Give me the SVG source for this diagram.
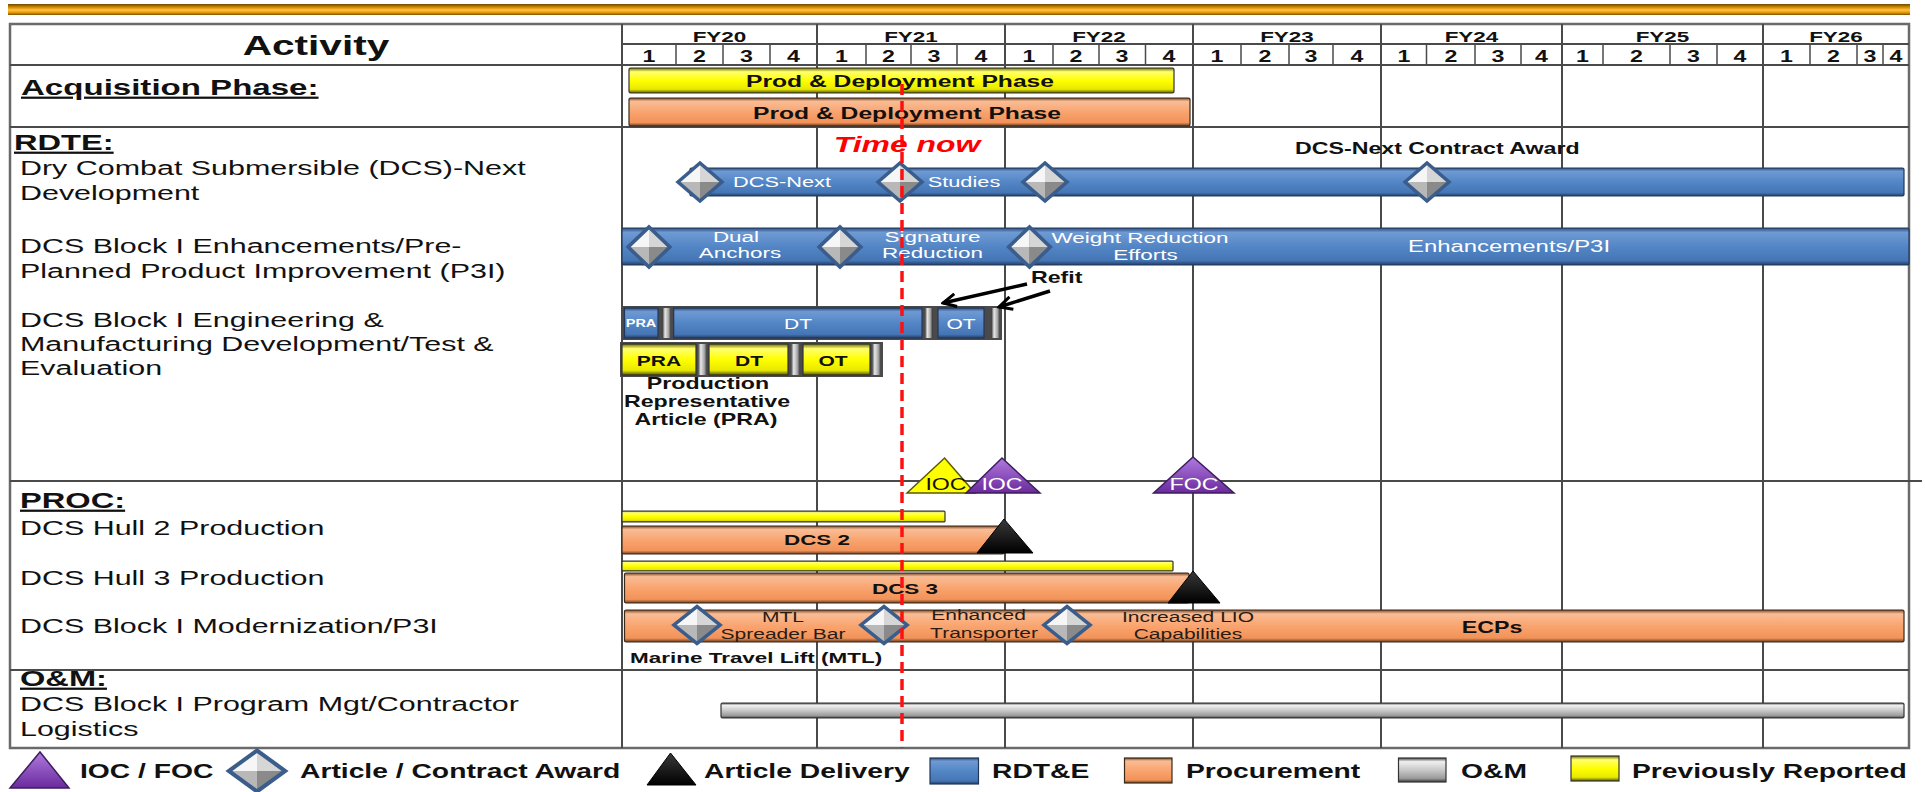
<svg xmlns="http://www.w3.org/2000/svg" xmlns:xlink="http://www.w3.org/1999/xlink" width="1925" height="792" viewBox="0 0 1925 792">
<defs>
<style>
.t{font-family:"Liberation Sans",Arial,Helvetica,sans-serif;fill:#111}
.b{font-weight:700}
.w{fill:#fff}
.u{text-decoration:underline}
.br{fill:#2a1c12}
.grid{stroke:#4a4a4a;stroke-width:2;fill:none}
.q{stroke:#4a4a4a;stroke-width:1.5}
.bb{fill:url(#gB);stroke:#22385a;stroke-width:1.2}
.bo{fill:url(#gO);stroke:#3a2a1a;stroke-width:1.2}
.by{fill:url(#gY);stroke:#333;stroke-width:1.2}
.bg{fill:url(#gG);stroke:#333;stroke-width:1.2}
.tp{fill:url(#gP);stroke:#3d1d5e;stroke-width:1.5}
.tk{fill:url(#gK);stroke:#000;stroke-width:1}
.ty{fill:#ffff00;stroke:#5a5a00;stroke-width:1.5}
.arr{stroke:#000;stroke-width:3.5;fill:none;marker-end:url(#ah)}
</style>
<linearGradient id="gGold" x1="0" y1="0" x2="0" y2="1">
<stop offset="0" stop-color="#6e4800"/><stop offset="0.3" stop-color="#d48c00"/><stop offset="0.55" stop-color="#ffc440"/><stop offset="0.8" stop-color="#e09400"/><stop offset="1" stop-color="#7a5000"/>
</linearGradient>
<linearGradient id="gB" x1="0" y1="0" x2="0" y2="1">
<stop offset="0" stop-color="#2c4e80"/><stop offset="0.12" stop-color="#6f9ad3"/><stop offset="0.5" stop-color="#5386c6"/><stop offset="0.88" stop-color="#4575b5"/><stop offset="1" stop-color="#243f66"/>
</linearGradient>
<linearGradient id="gO" x1="0" y1="0" x2="0" y2="1">
<stop offset="0" stop-color="#7a4a28"/><stop offset="0.12" stop-color="#f9bd96"/><stop offset="0.5" stop-color="#f9a46f"/><stop offset="0.88" stop-color="#f29258"/><stop offset="1" stop-color="#6a3e20"/>
</linearGradient>
<linearGradient id="gY" x1="0" y1="0" x2="0" y2="1">
<stop offset="0" stop-color="#6e6e00"/><stop offset="0.15" stop-color="#ffff70"/><stop offset="0.5" stop-color="#ffff00"/><stop offset="0.85" stop-color="#e8e800"/><stop offset="1" stop-color="#5a5a00"/>
</linearGradient>
<linearGradient id="gG" x1="0" y1="0" x2="0" y2="1">
<stop offset="0" stop-color="#444"/><stop offset="0.15" stop-color="#f0f0f0"/><stop offset="0.5" stop-color="#c8c8c8"/><stop offset="0.85" stop-color="#9a9a9a"/><stop offset="1" stop-color="#3a3a3a"/>
</linearGradient>
<linearGradient id="gGv" x1="0" y1="0" x2="1" y2="0">
<stop offset="0" stop-color="#444"/><stop offset="0.3" stop-color="#e8e8e8"/><stop offset="0.7" stop-color="#a8a8a8"/><stop offset="1" stop-color="#3a3a3a"/>
</linearGradient>
<linearGradient id="gP" x1="0" y1="0" x2="0" y2="1">
<stop offset="0" stop-color="#b07ae0"/><stop offset="1" stop-color="#6a2a9c"/>
</linearGradient>
<linearGradient id="gK" x1="0" y1="0" x2="0" y2="1">
<stop offset="0" stop-color="#3a3a3a"/><stop offset="1" stop-color="#000"/>
</linearGradient>
<g id="dm">
<polygon points="-22,0 0,-19 0,0" fill="#f6f6f6"/>
<polygon points="0,-19 22,0 0,0" fill="#d6d6d6"/>
<polygon points="-22,0 0,19 0,0" fill="#b8b8b8"/>
<polygon points="0,19 22,0 0,0" fill="#8a8a8a"/>
<polygon points="-22,0 0,-19 22,0 0,19" fill="none" stroke="#3a5d8c" stroke-width="3.5"/>
</g>
<marker id="ah" viewBox="0 0 16 16" markerWidth="16" markerHeight="16" refX="14" refY="8" orient="auto" markerUnits="userSpaceOnUse">
<path d="M1,1.5 L14,8 L1,14.5" fill="none" stroke="#000" stroke-width="3"/>
</marker>
</defs>

<rect x="0" y="0" width="1925" height="792" fill="#fff"/>
<rect id="topbar" x="8" y="4" width="1902" height="11" fill="url(#gGold)"/>

<g id="grid">
<rect x="10" y="24" width="1899" height="724" fill="#fff" stroke="#6a6a6a" stroke-width="2.5"/>
<line class="grid" x1="622" y1="24" x2="622" y2="748"/>
<line class="grid" x1="10" y1="65" x2="1909" y2="65"/>
<line class="grid" x1="622" y1="44" x2="1909" y2="44"/>
<line class="grid" x1="10" y1="127" x2="1909" y2="127"/>
<line class="grid" x1="10" y1="481" x2="1922" y2="481"/>
<line class="grid" x1="10" y1="670" x2="1909" y2="670"/>
<g class="grid">
<line x1="817" y1="24" x2="817" y2="748"/><line x1="1005" y1="24" x2="1005" y2="748"/>
<line x1="1193" y1="24" x2="1193" y2="748"/><line x1="1381" y1="24" x2="1381" y2="748"/>
<line x1="1562" y1="24" x2="1562" y2="748"/><line x1="1763" y1="24" x2="1763" y2="748"/>
</g>
<g class="q">
<line x1="676" y1="44" x2="676" y2="65"/><line x1="723" y1="44" x2="723" y2="65"/><line x1="770" y1="44" x2="770" y2="65"/>
<line x1="866" y1="44" x2="866" y2="65"/><line x1="911" y1="44" x2="911" y2="65"/><line x1="957" y1="44" x2="957" y2="65"/>
<line x1="1053" y1="44" x2="1053" y2="65"/><line x1="1099" y1="44" x2="1099" y2="65"/><line x1="1145.5" y1="44" x2="1145.5" y2="65"/>
<line x1="1241" y1="44" x2="1241" y2="65"/><line x1="1289" y1="44" x2="1289" y2="65"/><line x1="1333" y1="44" x2="1333" y2="65"/>
<line x1="1426.5" y1="44" x2="1426.5" y2="65"/><line x1="1475" y1="44" x2="1475" y2="65"/><line x1="1521" y1="44" x2="1521" y2="65"/>
<line x1="1603" y1="44" x2="1603" y2="65"/><line x1="1670" y1="44" x2="1670" y2="65"/><line x1="1717" y1="44" x2="1717" y2="65"/>
<line x1="1810" y1="44" x2="1810" y2="65"/><line x1="1857" y1="44" x2="1857" y2="65"/><line x1="1883" y1="44" x2="1883" y2="65"/>
</g>
</g>

<g id="header">
<text class="t b" font-size="28" text-anchor="middle" transform="translate(316,55) scale(1.45,1)">Activity</text>
<g font-size="15.5" text-anchor="middle">
<text class="t b" transform="translate(719.5,41.5) scale(1.45,1)">FY20</text>
<text class="t b" transform="translate(911,41.5) scale(1.45,1)">FY21</text>
<text class="t b" transform="translate(1099,41.5) scale(1.45,1)">FY22</text>
<text class="t b" transform="translate(1287,41.5) scale(1.45,1)">FY23</text>
<text class="t b" transform="translate(1471.5,41.5) scale(1.45,1)">FY24</text>
<text class="t b" transform="translate(1662.5,41.5) scale(1.45,1)">FY25</text>
<text class="t b" transform="translate(1836,41.5) scale(1.45,1)">FY26</text>
</g>
<g font-size="16" text-anchor="middle">
<text class="t b" transform="translate(649,62) scale(1.45,1)">1</text>
<text class="t b" transform="translate(699.5,62) scale(1.45,1)">2</text>
<text class="t b" transform="translate(746.5,62) scale(1.45,1)">3</text>
<text class="t b" transform="translate(793.5,62) scale(1.45,1)">4</text>
<text class="t b" transform="translate(841.5,62) scale(1.45,1)">1</text>
<text class="t b" transform="translate(888.5,62) scale(1.45,1)">2</text>
<text class="t b" transform="translate(934,62) scale(1.45,1)">3</text>
<text class="t b" transform="translate(981,62) scale(1.45,1)">4</text>
<text class="t b" transform="translate(1029,62) scale(1.45,1)">1</text>
<text class="t b" transform="translate(1076,62) scale(1.45,1)">2</text>
<text class="t b" transform="translate(1122,62) scale(1.45,1)">3</text>
<text class="t b" transform="translate(1169,62) scale(1.45,1)">4</text>
<text class="t b" transform="translate(1217,62) scale(1.45,1)">1</text>
<text class="t b" transform="translate(1265,62) scale(1.45,1)">2</text>
<text class="t b" transform="translate(1311,62) scale(1.45,1)">3</text>
<text class="t b" transform="translate(1357,62) scale(1.45,1)">4</text>
<text class="t b" transform="translate(1404,62) scale(1.45,1)">1</text>
<text class="t b" transform="translate(1451,62) scale(1.45,1)">2</text>
<text class="t b" transform="translate(1498,62) scale(1.45,1)">3</text>
<text class="t b" transform="translate(1541.5,62) scale(1.45,1)">4</text>
<text class="t b" transform="translate(1582.5,62) scale(1.45,1)">1</text>
<text class="t b" transform="translate(1636.5,62) scale(1.45,1)">2</text>
<text class="t b" transform="translate(1693.5,62) scale(1.45,1)">3</text>
<text class="t b" transform="translate(1740,62) scale(1.45,1)">4</text>
<text class="t b" transform="translate(1786.5,62) scale(1.45,1)">1</text>
<text class="t b" transform="translate(1833.5,62) scale(1.45,1)">2</text>
<text class="t b" transform="translate(1870,62) scale(1.45,1)">3</text>
<text class="t b" transform="translate(1896,62) scale(1.45,1)">4</text>
</g>
</g>

<g id="activities">
<g font-size="22.5">
<text class="t b u" transform="translate(21,95) scale(1.47,1)">Acquisition Phase:</text>
<text class="t b u" transform="translate(14,150) scale(1.45,1)">RDTE:</text>
<text class="t b u" transform="translate(20,508) scale(1.45,1)">PROC:</text>
<text class="t b u" transform="translate(20,686) scale(1.45,1)">O&amp;M:</text>
</g>
<g font-size="21">
<text class="t" transform="translate(20,175) scale(1.45,1)">Dry Combat Submersible (DCS)-Next</text>
<text class="t" transform="translate(20,200) scale(1.45,1)">Development</text>
<text class="t" transform="translate(20,253) scale(1.45,1)">DCS Block I Enhancements/Pre-</text>
<text class="t" transform="translate(20,278) scale(1.45,1)">Planned Product Improvement (P3I)</text>
<text class="t" transform="translate(20,327) scale(1.45,1)">DCS Block I Engineering  &amp;</text>
<text class="t" transform="translate(20,351) scale(1.45,1)">Manufacturing Development/Test &amp;</text>
<text class="t" transform="translate(20,375) scale(1.45,1)">Evaluation</text>
<text class="t" transform="translate(20,535) scale(1.45,1)">DCS Hull 2 Production</text>
<text class="t" transform="translate(20,585) scale(1.45,1)">DCS Hull 3 Production</text>
<text class="t" transform="translate(20,633) scale(1.45,1)">DCS Block I Modernization/P3I</text>
<text class="t" transform="translate(20,711) scale(1.45,1)">DCS Block I Program Mgt/Contractor</text>
<text class="t" transform="translate(20,736) scale(1.45,1)">Logistics</text>
</g>
</g>

<g id="row-acq">
<rect class="by" x="629" y="68" width="545" height="25" rx="1.5"/>
<text class="t b" font-size="17" text-anchor="middle" transform="translate(900,87) scale(1.45,1)">Prod &amp; Deployment Phase</text>
<rect class="bo" x="629" y="98" width="561" height="28" rx="1.5"/>
<text class="t b" font-size="17" text-anchor="middle" transform="translate(907,119) scale(1.45,1)">Prod &amp; Deployment Phase</text>
</g>

<g id="row-dcsnext">
<rect class="bb" x="690" y="168" width="1214" height="28" rx="1.5"/>
<use xlink:href="#dm" href="#dm" transform="translate(700,182)"/>
<use xlink:href="#dm" href="#dm" transform="translate(900,182)"/>
<use xlink:href="#dm" href="#dm" transform="translate(1045,182)"/>
<use xlink:href="#dm" href="#dm" transform="translate(1427,182)"/>
<text class="t w" font-size="15" text-anchor="middle" transform="translate(782,187) scale(1.45,1)">DCS-Next</text>
<text class="t w" font-size="15" text-anchor="middle" transform="translate(964,187) scale(1.45,1)">Studies</text>
<text class="t b" font-size="16" transform="translate(1295,154) scale(1.45,1)">DCS-Next Contract Award</text>
</g>

<g id="row-enh">
<rect class="bb" x="622" y="228" width="1287" height="37" rx="1.5"/>
<use xlink:href="#dm" href="#dm" transform="translate(649,247) scale(0.95,1.05)"/>
<use xlink:href="#dm" href="#dm" transform="translate(840,247) scale(0.95,1.05)"/>
<use xlink:href="#dm" href="#dm" transform="translate(1029.5,247) scale(0.95,1.05)"/>
<g font-size="15.5" text-anchor="middle">
<text class="t w" transform="translate(736,242) scale(1.45,1)">Dual</text>
<text class="t w" transform="translate(740,258) scale(1.45,1)">Anchors</text>
<text class="t w" transform="translate(932.5,242) scale(1.45,1)">Signature</text>
<text class="t w" transform="translate(932.5,258) scale(1.45,1)">Reduction</text>
<text class="t w" transform="translate(1140,243) scale(1.45,1)">Weight Reduction</text>
<text class="t w" transform="translate(1145.5,260) scale(1.45,1)">Efforts</text>
</g>
<text class="t w" font-size="16.5" text-anchor="middle" transform="translate(1509,252) scale(1.45,1)">Enhancements/P3I</text>
</g>

<g id="row-emd">
<rect x="622" y="306" width="380" height="34" fill="#4a4a4a"/>
<rect class="bb" x="624.5" y="308" width="33.5" height="30"/>
<rect x="662.5" y="308" width="8.5" height="30" fill="url(#gGv)"/>
<rect class="bb" x="673.7" y="308" width="248.3" height="30"/>
<rect x="925" y="308" width="7.6" height="30" fill="url(#gGv)"/>
<rect class="bb" x="938" y="308" width="46" height="30"/>
<rect x="991.5" y="308" width="8.5" height="30" fill="url(#gGv)"/>
<text class="t w b" font-size="10" text-anchor="middle" transform="translate(641,327) scale(1.45,1)">PRA</text>
<text class="t w" font-size="14.5" text-anchor="middle" transform="translate(798,329) scale(1.45,1)">DT</text>
<text class="t w" font-size="14.5" text-anchor="middle" transform="translate(961,329) scale(1.45,1)">OT</text>
<rect x="620" y="342" width="263" height="35" fill="#4a4a4a"/>
<rect class="by" x="622" y="344" width="74" height="31"/>
<rect x="698" y="344" width="9" height="31" fill="url(#gGv)"/>
<rect class="by" x="709" y="344" width="79" height="31"/>
<rect x="791" y="344" width="9" height="31" fill="url(#gGv)"/>
<rect class="by" x="803" y="344" width="67" height="31"/>
<rect x="872" y="344" width="9" height="31" fill="url(#gGv)"/>
<g font-size="14.5" text-anchor="middle">
<text class="t b" transform="translate(659,366) scale(1.45,1)">PRA</text>
<text class="t b" transform="translate(749,366) scale(1.45,1)">DT</text>
<text class="t b" transform="translate(833,366) scale(1.45,1)">OT</text>
</g>
<g font-size="16" text-anchor="middle">
<text class="t b" transform="translate(708,389) scale(1.45,1)">Production</text>
<text class="t b" transform="translate(707,407) scale(1.45,1)">Representative</text>
<text class="t b" transform="translate(706,425) scale(1.45,1)">Article (PRA)</text>
</g>
<text class="t b" font-size="16" transform="translate(1031,283) scale(1.45,1)">Refit</text>
</g>

<g id="milestones">
<polygon class="ty" points="907,493 944.6,458 975,493"/>
<polygon class="tp" points="966,493 1002,458 1040,493"/>
<polygon class="tp" points="1153.5,493 1193,457 1234,493"/>
<g font-size="16" text-anchor="middle">
<text class="t" transform="translate(946,490) scale(1.45,1)">IOC</text>
<text class="t w" transform="translate(1002,490) scale(1.45,1)">IOC</text>
<text class="t w" transform="translate(1194,490) scale(1.45,1)">FOC</text>
</g>
</g>

<g id="row-hull2">
<rect class="by" x="622" y="511" width="323" height="11" rx="1"/>
<rect class="bo" x="622" y="526" width="382" height="28" rx="1.5"/>
<text class="t b" font-size="15.5" text-anchor="middle" transform="translate(817,545) scale(1.45,1)">DCS 2</text>
<polygon class="tk" points="977,553 1004,519 1033,553"/>
</g>

<g id="row-hull3">
<rect class="by" x="622" y="561" width="551" height="10" rx="1"/>
<rect class="bo" x="624.5" y="573" width="564.5" height="30" rx="1.5"/>
<text class="t b" font-size="15.5" text-anchor="middle" transform="translate(905,594) scale(1.45,1)">DCS 3</text>
<polygon class="tk" points="1168,603 1193,571 1220,603"/>
</g>

<g id="row-p3i">
<rect class="bo" x="624.5" y="610" width="1279.5" height="32" rx="1.5"/>
<g font-size="14.5" text-anchor="middle">
<text class="t br" transform="translate(783,622) scale(1.45,1)">MTL</text>
<text class="t br" transform="translate(783,639) scale(1.45,1)">Spreader Bar</text>
<text class="t br" transform="translate(978.5,620) scale(1.45,1)">Enhanced</text>
<text class="t br" transform="translate(984,638) scale(1.45,1)">Transporter</text>
<text class="t br" transform="translate(1188,622) scale(1.45,1)">Increased LIO</text>
<text class="t br" transform="translate(1188,639) scale(1.45,1)">Capabilities</text>
</g>
<use xlink:href="#dm" href="#dm" transform="translate(697,625) scale(1.05,0.97)"/>
<use xlink:href="#dm" href="#dm" transform="translate(884,625) scale(1.05,0.97)"/>
<use xlink:href="#dm" href="#dm" transform="translate(1067,625) scale(1.05,0.97)"/>
<text class="t b" font-size="16" text-anchor="middle" transform="translate(1492,633) scale(1.45,1)">ECPs</text>
<text class="t b" font-size="15.5" transform="translate(630,663) scale(1.45,1)">Marine Travel Lift (MTL)</text>
</g>

<g id="row-om">
<rect class="bg" x="721" y="703" width="1183" height="15" rx="1.5"/>
</g>

<g id="connectors">
<line class="arr" x1="1027" y1="284" x2="943" y2="303"/>
<line class="arr" x1="1050" y1="291" x2="999" y2="307"/>
</g>

<g id="timenow">
<line x1="902" y1="84" x2="902" y2="748" stroke="#ff1010" stroke-width="3.5" stroke-dasharray="11 6"/>
<text class="t b" font-size="22" font-style="italic" text-anchor="middle" style="fill:#ff0000" transform="translate(907,152) scale(1.45,1)">Time now</text>
</g>

<g id="legend">
<polygon class="tp" points="10,788 40,752 69,788"/>
<text class="t b" font-size="19.5" transform="translate(80,778) scale(1.45,1)">IOC / FOC</text>
<use xlink:href="#dm" href="#dm" transform="translate(257,771) scale(1.28,1.08)"/>
<text class="t b" font-size="19.5" transform="translate(300,778) scale(1.45,1)">Article / Contract Award</text>
<polygon class="tk" points="647,785 670.5,753 696,785"/>
<text class="t b" font-size="19.5" transform="translate(704,778) scale(1.45,1)">Article Delivery</text>
<rect class="bb" x="930" y="758" width="48.5" height="26"/>
<text class="t b" font-size="19.5" transform="translate(992,778) scale(1.45,1)">RDT&amp;E</text>
<rect class="bo" x="1124.5" y="758" width="47.5" height="25"/>
<text class="t b" font-size="19.5" transform="translate(1186,778) scale(1.45,1)">Procurement</text>
<rect class="bg" x="1398.5" y="758" width="47.5" height="24"/>
<text class="t b" font-size="19.5" transform="translate(1461,778) scale(1.45,1)">O&amp;M</text>
<rect class="by" x="1571" y="756" width="48" height="25"/>
<text class="t b" font-size="19.5" transform="translate(1632,778) scale(1.45,1)">Previously Reported</text>
</g>
</svg>
